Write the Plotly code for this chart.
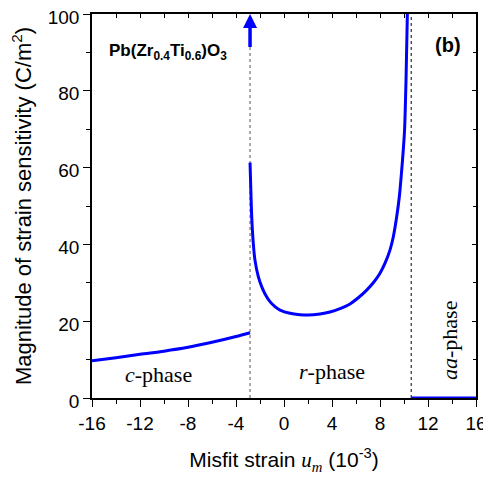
import plotly.graph_objects as go

# c-phase branch
c_x = [-16, -14, -12, -10, -8, -6, -4, -2.83]
c_y = [9.7, 10.5, 11.4, 12.2, 13.2, 14.5, 16.0, 17.0]

# r-phase branch
r_x = [-2.83, -2.78, -2.69, -2.56, -2.42, -2.14, -1.86, -1.58, -1.17, -0.75, -0.33, 0.5, 1.33,
       2.03, 3.0, 3.83, 4.67, 5.5, 6.19, 6.89, 7.44, 8.0, 8.42, 8.83, 9.11, 9.39, 9.61, 9.81,
       9.94, 10.05, 10.17, 10.28]
r_y = [61.3, 55.9, 47.2, 40.3, 35.9, 31.6, 29.0, 27.1, 25.1, 23.8, 22.9, 22.05, 21.7,
       21.6, 21.9, 22.4, 23.3, 24.5, 26.1, 28.1, 30.0, 32.5, 35.1, 38.5, 42.0, 47.2, 52.4, 59.4,
       64.6, 70.0, 83.0, 100]

# aa-phase branch
aa_x = [10.6, 16]
aa_y = [0, 0]

# phase boundaries
boundaries = [-2.83, 10.6]
arrow_x = -2.83
arrow_y = [91, 100]

x_ticks = [-16, -12, -8, -4, 0, 4, 8, 12, 16]
y_ticks = [0, 20, 40, 60, 80, 100]

blue = "#0000ff"
fig = go.Figure()
for bx, col in zip(boundaries, ["#555555", "#000000"]):
    fig.add_trace(go.Scatter(x=[bx, bx], y=[0, 100], mode="lines",
                             line=dict(color=col, width=1, dash="dot"), showlegend=False))
for xs, ys in [(c_x, c_y), (r_x, r_y), (aa_x, aa_y)]:
    fig.add_trace(go.Scatter(x=xs, y=ys, mode="lines",
                             line=dict(color=blue, width=3, shape="spline", smoothing=0.8),
                             showlegend=False, cliponaxis=False))

fig.add_annotation(x=arrow_x, y=arrow_y[1], ax=arrow_x, ay=arrow_y[0], xref="x", yref="y",
                   axref="x", ayref="y", showarrow=True, arrowhead=2, arrowsize=0.8,
                   arrowwidth=3.5, arrowcolor=blue, text="")

tickfont = dict(family="Arial, Liberation Sans", size=19, color="black")
fig.update_layout(
    width=483, height=473,
    margin=dict(l=84, r=15, t=6, b=83),
    paper_bgcolor="white", plot_bgcolor="white",
    xaxis=dict(range=[-16, 16], tickvals=x_ticks, ticktext=[str(v) for v in x_ticks],
               ticks="outside", ticklen=7, tickwidth=1.3, tickcolor="black", automargin=False,
               ticklabeloverflow="allow",
               minor=dict(dtick=2, tick0=0, ticks="outside", ticklen=4, tickcolor="black"),
               showline=True, linecolor="black", linewidth=1.5, showgrid=False, zeroline=False,
               tickfont=tickfont,
               title=dict(text="Misfit strain <i><span style=\"font-family:Liberation Serif\">u</span></i><sub><i><span style=\"font-family:Liberation Serif\">m</span></i></sub> (10<sup>-3</sup>)",
                          font=dict(family="Arial, Liberation Sans", size=21, color="black"), standoff=20)),
    yaxis=dict(range=[0, 100], tickvals=y_ticks, ticks="outside", ticklen=7, tickwidth=1.3,
               tickcolor="black", automargin=False, ticklabeloverflow="allow", ticklabelshift=3,
               minor=dict(dtick=10, tick0=0, ticks="outside", ticklen=4, tickcolor="black"),
               showline=True, linecolor="black", linewidth=1.5, showgrid=False, zeroline=False,
               tickfont=tickfont,
               title=dict(text="Magnitude of strain sensitivity (C/m<sup>2</sup>)",
                          font=dict(family="Arial, Liberation Sans", size=22, color="black"), standoff=14)),
    xaxis2=dict(range=[-16, 16], overlaying="x", side="top", tickvals=x_ticks, automargin=False,
                showticklabels=False, ticks="inside", ticklen=4, tickcolor="black",
                minor=dict(dtick=2, tick0=0, ticks="inside", ticklen=4, tickcolor="black"),
                showline=True, linecolor="black", linewidth=1.5, showgrid=False, zeroline=False),
    yaxis2=dict(range=[0, 100], overlaying="y", side="right", tickvals=y_ticks, automargin=False,
                showticklabels=False, ticks="inside", ticklen=4, tickcolor="black",
                minor=dict(dtick=10, tick0=0, ticks="inside", ticklen=3, tickcolor="black"),
                showline=True, linecolor="black", linewidth=1.5, showgrid=False, zeroline=False),
)
fig.add_trace(go.Scatter(x=[0], y=[0], xaxis="x2", yaxis="y2", mode="markers",
                         marker=dict(opacity=0), showlegend=False, hoverinfo="skip"))

fig.add_annotation(x=0.038, y=0.90, xref="paper", yref="paper", xanchor="left", yanchor="middle",
                   text="<b>Pb(Zr<sub>0.4</sub>Ti<sub>0.6</sub>)O<sub>3</sub></b>", showarrow=False,
                   font=dict(family="Arial, Liberation Sans", size=17, color="black"))
fig.add_annotation(x=0.965, y=0.919, xref="paper", yref="paper", xanchor="right", yanchor="middle",
                   text="<b>(b)</b>", showarrow=False,
                   font=dict(family="Arial, Liberation Sans", size=20, color="black"))
serif = dict(family="Liberation Serif, Times New Roman", size=22, color="black")
fig.add_annotation(x=-10.5, y=6, xref="x", yref="y", text="<i>c</i>-phase", showarrow=False, font=serif)
fig.add_annotation(x=4.0, y=6.8, xref="x", yref="y", text="<i>r</i>-phase", showarrow=False, font=serif)
fig.add_annotation(x=13.8, y=15, xref="x", yref="y", text="<i>aa</i>-phase", showarrow=False,
                   textangle=-90, font=serif)

fig.write_html("out.html")
